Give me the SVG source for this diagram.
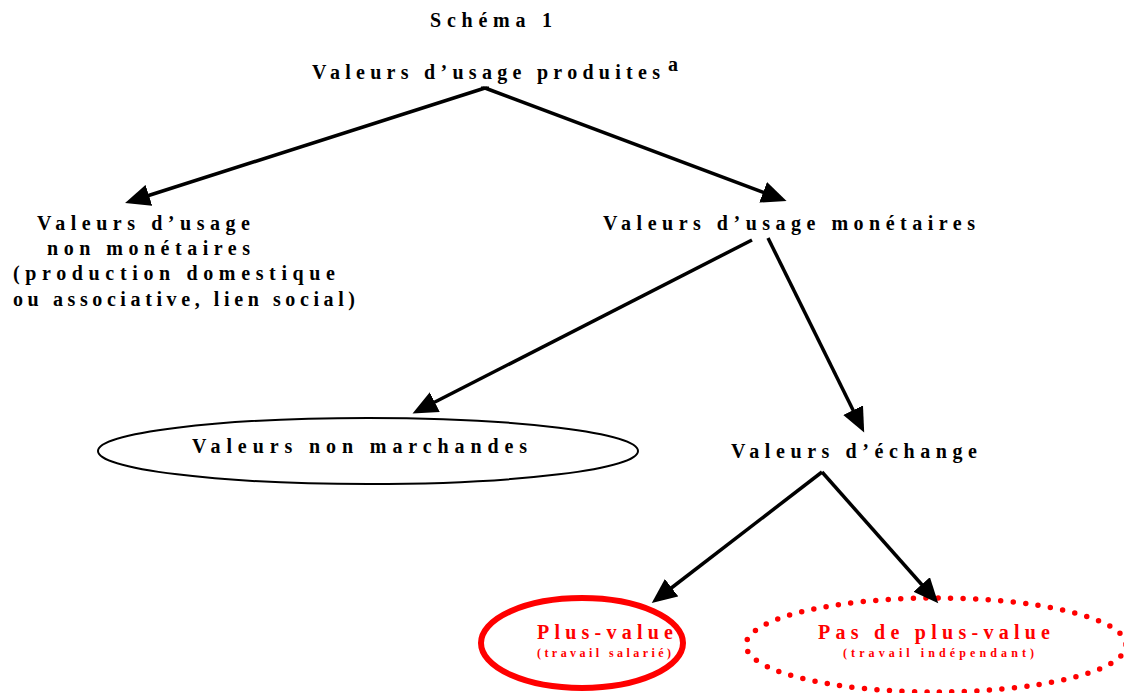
<svg xmlns="http://www.w3.org/2000/svg" width="1124" height="693" viewBox="0 0 1124 693">
<style>
text{font-family:"Liberation Serif","Times New Roman",serif;font-weight:bold;fill:#000;font-size:20px}
.red{fill:#ff0000}
.small{font-size:12px}
.conn line{stroke:#000;stroke-width:3.5;marker-end:url(#ah)}
</style>
<defs>
<marker id="ah" markerUnits="userSpaceOnUse" markerWidth="26" markerHeight="22" viewBox="0 0 26 22" refX="2" refY="11" orient="auto">
<path d="M0,0 L25,11 L0,22 z" fill="#000"/>
</marker>
</defs>
<rect width="1124" height="693" fill="#fff"/>
<g id="title"><text x="430" y="27" textLength="122" lengthAdjust="spacing">Schéma 1</text></g>
<g id="n-produites">
<text x="312" y="79" textLength="348" lengthAdjust="spacing">Valeurs d’usage produites</text>
<text x="668" y="71" font-size="8">a</text>
</g>
<g id="n-nonmonetaires">
<text x="37" y="230" textLength="213" lengthAdjust="spacing">Valeurs d’usage</text>
<text x="47" y="255" textLength="203" lengthAdjust="spacing">non monétaires</text>
<text x="13" y="280" textLength="322" lengthAdjust="spacing">(production domestique</text>
<text x="13" y="306" textLength="342" lengthAdjust="spacing">ou associative, lien social)</text>
</g>
<g id="n-monetaires"><text x="603" y="230" textLength="372" lengthAdjust="spacing">Valeurs d’usage monétaires</text></g>
<g id="n-nonmarchandes">
<ellipse cx="368" cy="451" rx="270" ry="33" fill="none" stroke="#000" stroke-width="2"/>
<text x="192" y="453" textLength="335" lengthAdjust="spacing">Valeurs non marchandes</text>
</g>
<g id="n-echange"><text x="731" y="458" textLength="246" lengthAdjust="spacing">Valeurs d’échange</text></g>
<g id="n-plusvalue">
<ellipse cx="582" cy="643" rx="101" ry="45" fill="none" stroke="#ff0000" stroke-width="6"/>
<text class="red" x="537" y="639" textLength="136" lengthAdjust="spacing">Plus-value</text>
<text class="red small" x="537" y="657" textLength="134" lengthAdjust="spacing">(travail salarié)</text>
</g>
<g id="n-pasplusvalue">
<ellipse cx="936" cy="645" rx="190" ry="47" fill="none" stroke="#ff0000" stroke-width="5.5" stroke-linecap="round" stroke-dasharray="0 12.5"/>
<text class="red" x="818" y="639" textLength="232" lengthAdjust="spacing">Pas de plus-value</text>
<text class="red small" x="843" y="657" textLength="191" lengthAdjust="spacing">(travail indépendant)</text>
</g>
<g id="connectors" class="conn">
<line x1="485" y1="88" x2="147" y2="196"/>
<line x1="485" y1="88" x2="765" y2="193"/>
<line x1="752" y1="240" x2="433" y2="403"/>
<line x1="768" y1="238" x2="854" y2="412"/>
<line x1="822" y1="472" x2="670" y2="589"/>
<line x1="822" y1="472" x2="923" y2="586"/>
<line x1="481" y1="88" x2="489" y2="88" style="marker-end:none;stroke-width:3"/>
</g>
</svg>
